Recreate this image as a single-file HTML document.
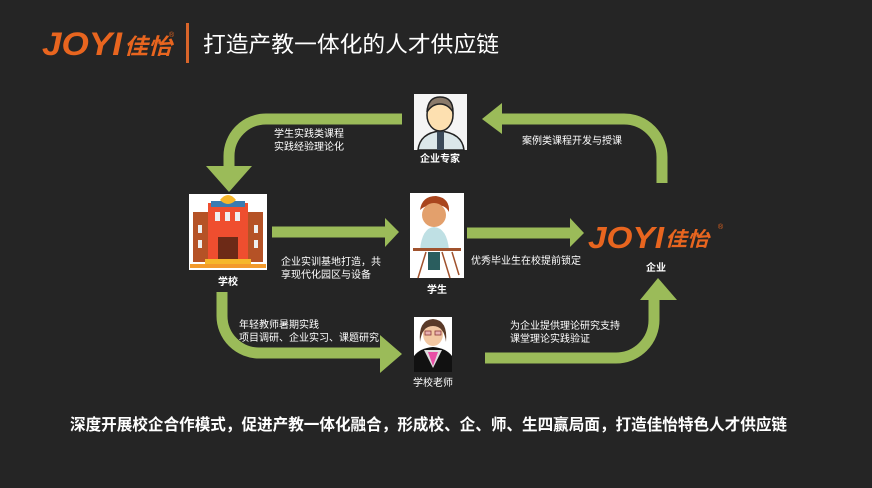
<!DOCTYPE html>
<html><head><meta charset="utf-8"><style>
html,body{margin:0;padding:0;background:#252525;width:872px;height:488px;overflow:hidden}
svg{display:block}
text{font-family:"Liberation Sans","Noto Sans CJK SC",sans-serif;fill:#fff}
</style></head><body>
<svg width="872" height="488" viewBox="0 0 872 488" xmlns="http://www.w3.org/2000/svg">
<rect width="872" height="488" fill="#252525"/>
<!-- header logo -->
<text x="42" y="55" font-size="32" font-weight="bold" font-style="italic" style="fill:#e8651f" textLength="80" lengthAdjust="spacingAndGlyphs">JOYI</text>
<text x="124" y="54" font-size="22" font-weight="bold" style="fill:#e8651f" font-style="italic" textLength="48" lengthAdjust="spacingAndGlyphs">佳怡</text>
<text x="169" y="37" font-size="7" style="fill:#e8651f">®</text>
<rect x="186" y="23" width="3" height="40" fill="#d9652a"/>
<text x="203" y="52" font-size="22" textLength="296" lengthAdjust="spacingAndGlyphs">打造产教一体化的人才供应链</text>

<g fill="none" stroke="#9bbb59" stroke-width="11">
<path d="M402 119 H266 A37 37 0 0 0 229 156 V168"/>
<path d="M500 119 H624 A38 38 0 0 1 662 157 V183"/>
<path d="M272 232 H388"/>
<path d="M467 233 H573"/>
<path d="M222 292 V316 A37 37 0 0 0 259 353 H384"/>
<path d="M485 358 H616 A38 38 0 0 0 654 320 V296"/>
</g>
<g fill="#9bbb59">
<polygon points="206,166 252,166 229,192"/>
<polygon points="502,103 502,134 482,119"/>
<polygon points="385,218 385,247 399,232"/>
<polygon points="570,218 570,247 584,233"/>
<polygon points="380,335 380,373 402,354"/>
<polygon points="640,300 677,300 658,278"/>
</g>

<!-- expert -->
<rect x="414" y="94" width="53" height="56" fill="#f5f5f5"/>
<path d="M418 150 Q420 133 440 131 Q462 133 464 150 Z" fill="#dbe7ea" stroke="#222" stroke-width="1.5"/>
<rect x="437" y="131" width="7" height="19" fill="#3b4a5a"/>
<ellipse cx="440" cy="115" rx="13" ry="16" fill="#fde0b0" stroke="#222" stroke-width="1.5"/>
<path d="M427 112 Q428 97 440 97 Q453 97 453 112 Q448 104 440 104 Q432 104 427 112Z" fill="#8a7a6a" stroke="#222" stroke-width="1.5"/>
<text x="440" y="162" font-size="10" font-weight="bold" text-anchor="middle">企业专家</text>
<text x="274" y="137" font-size="10">学生实践类课程</text>
<text x="274" y="150" font-size="10">实践经验理论化</text>
<text x="522" y="144" font-size="10">案例类课程开发与授课</text>

<!-- school -->
<rect x="189" y="194" width="78" height="76" fill="#fff"/>
<rect x="193" y="212" width="70" height="50" fill="#b55226"/>
<rect x="208" y="203" width="40" height="58" fill="#ef4e2f"/>
<rect x="211" y="201" width="34" height="6" fill="#3a7bb2"/>
<path d="M220 200 Q228 190 236 200 Q228 208 220 200Z" fill="#f6b72b"/>
<rect x="215" y="212" width="5" height="9" fill="#eee"/><rect x="225" y="212" width="5" height="9" fill="#eee"/><rect x="235" y="212" width="5" height="9" fill="#eee"/>
<rect x="198" y="225" width="4" height="8" fill="#eee"/><rect x="254" y="225" width="4" height="8" fill="#eee"/>
<rect x="198" y="240" width="4" height="8" fill="#eee"/><rect x="254" y="240" width="4" height="8" fill="#eee"/>
<rect x="218" y="237" width="20" height="22" fill="#6d2a17"/>
<rect x="205" y="259" width="46" height="5" fill="#f6b72b"/>
<rect x="190" y="264" width="76" height="4" fill="#f39a2b"/>
<text x="228" y="285" font-size="10" font-weight="bold" text-anchor="middle">学校</text>
<text x="281" y="265" font-size="10">企业实训基地打造，共</text>
<text x="281" y="278" font-size="10">享现代化园区与设备</text>

<!-- student -->
<rect x="410" y="193" width="54" height="85" fill="#fff"/>
<path d="M420 210 Q422 196 436 196 Q450 198 449 212 Q445 204 436 206 Q426 204 420 210Z" fill="#a9451d"/>
<ellipse cx="434" cy="215" rx="12" ry="12" fill="#e3a06c"/>
<path d="M420 250 Q422 228 434 227 Q447 228 449 250Z" fill="#bfe0e4"/>
<rect x="413" y="248" width="48" height="3" fill="#a0522d"/>
<path d="M426 252 L418 278 M442 252 L450 278 M452 252 L459 275" stroke="#a0522d" stroke-width="1.5"/>
<rect x="428" y="252" width="12" height="18" fill="#2a5d5e"/>
<text x="437" y="293" font-size="10" font-weight="bold" text-anchor="middle">学生</text>
<text x="471" y="264" font-size="10">优秀毕业生在校提前锁定</text>

<!-- enterprise logo -->
<text x="588" y="248" font-size="31" font-weight="bold" font-style="italic" style="fill:#e8651f" textLength="76" lengthAdjust="spacingAndGlyphs">JOYI</text>
<text x="665" y="246" font-size="20" font-weight="bold" font-style="italic" style="fill:#e8651f" textLength="44" lengthAdjust="spacingAndGlyphs">佳怡</text>
<text x="718" y="229" font-size="7" style="fill:#e8651f">®</text>
<text x="656" y="271" font-size="10" font-weight="bold" text-anchor="middle">企业</text>

<!-- teacher -->
<rect x="414" y="317" width="38" height="55" fill="#fff"/>
<path d="M414 372 L414 356 Q420 348 433 347 Q446 348 452 356 L452 372Z" fill="#111"/>
<path d="M424 350 L433 368 L442 350Z" fill="#ddd"/>
<path d="M428 352 L433 366 L438 352Z" fill="#e84fa6"/>
<ellipse cx="433" cy="334" rx="10" ry="12" fill="#f2c7a2"/>
<path d="M420 342 Q418 320 433 319 Q448 320 446 342 Q444 326 433 326 Q422 326 420 342Z" fill="#5a3a28"/>
<rect x="425" y="331" width="6" height="4" fill="#e8b0b0" stroke="#8a3a3a" stroke-width="0.8"/>
<rect x="435" y="331" width="6" height="4" fill="#e8b0b0" stroke="#8a3a3a" stroke-width="0.8"/>
<text x="433" y="386" font-size="10" text-anchor="middle">学校老师</text>
<text x="239" y="328" font-size="10">年轻教师暑期实践</text>
<text x="239" y="341" font-size="10">项目调研、企业实习、课题研究</text>
<text x="510" y="329" font-size="10">为企业提供理论研究支持</text>
<text x="510" y="342" font-size="10">课堂理论实践验证</text>

<text x="70" y="430" font-size="16" font-weight="bold" textLength="717" lengthAdjust="spacingAndGlyphs">深度开展校企合作模式，促进产教一体化融合，形成校、企、师、生四赢局面，打造佳怡特色人才供应链</text>
</svg>
</body></html>
